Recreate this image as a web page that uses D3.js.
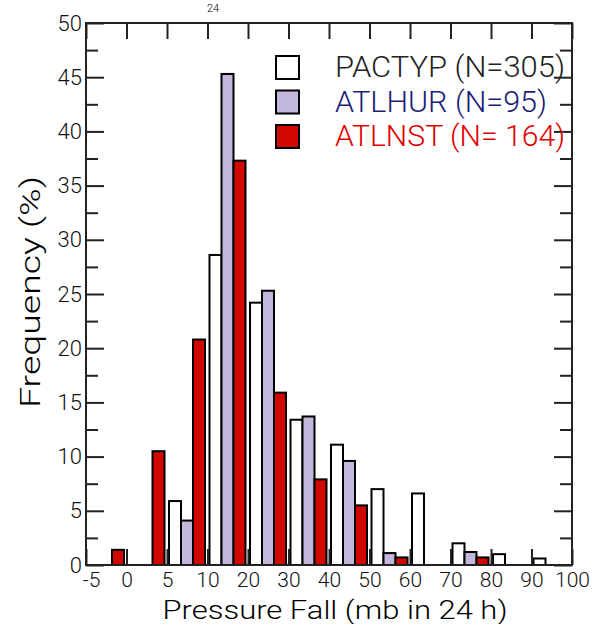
<!DOCTYPE html>
<html>
<head>
<meta charset="utf-8">
<script src="https://cdn.jsdelivr.net/npm/d3@7"></script>
<style>
  body { margin: 0; background: #fff; }
  svg { display: block; }
  text { font-family: Roboto, "Liberation Sans", "DejaVu Sans", sans-serif; font-weight: 300; }
</style>
</head>
<body>
<div id="chart-area"></div>
<script>

// bins of 24 h pressure fall (mb) and bin edge labels
let bins = ['-5-0', '0-5', '5-10', '10-20', '20-30', '30-40', '40-50', '50-60', '60-70', '70-80', '80-90', '90-100'];
let edges = ['-5', '0', '5', '10', '20', '30', '40', '50', '60', '70', '80', '90', '100'];

// frequency (%) per bin
let pactyp = [0, 0, 5.9, 28.6, 24.2, 13.4, 11.1, 7.0, 6.6, 2.0, 1.0, 0.6];
let atlhur = [0, 0, 4.1, 45.3, 25.3, 13.7, 9.6, 1.1, 0, 1.2, 0, 0];
let atlnst = [1.4, 10.5, 20.8, 37.3, 15.9, 7.9, 5.5, 0.7, 0, 0.7, 0, 0];

let seriesNames = ['PACTYP (N=305)', 'ATLHUR (N=95)', 'ATLNST (N= 164)'];
let yTicks = [0, 5, 10, 15, 20, 25, 30, 35, 40, 45, 50];
let yMinor = [2.5, 7.5, 12.5, 17.5, 22.5, 27.5, 32.5, 37.5, 42.5, 47.5];

let fills = ['#ffffff', '#c2b7da', '#d00800'];
let textColors = ['#222222', '#1c1c78', '#e00000'];


//**************** Canvas *****************//

let svg = d3.select('#chart-area').append('svg')
	.attr('width', 605)
	.attr('height', 624);

let plotLeft = 86, plotRight = 572, plotTop = 23, plotBottom = 565;


//**************** Scales & Axes *****************//

let x0 = d3.scaleBand()
	.domain(bins)
	.range([plotLeft, plotRight]);

let x1 = d3.scaleBand()
	.domain([0, 1, 2])
	.range([2, 38]);

let xEdge = d3.scalePoint()
	.domain(edges)
	.range([plotLeft, plotRight]);

let y = d3.scaleLinear()
	.domain([0, 50])
	.range([plotBottom, plotTop]);

// bars
let series = [pactyp, atlhur, atlnst];
series.forEach((vals, s) => {
	svg.append('g').selectAll('rect')
		.data(vals)
		.enter().append('rect')
			.attr('x', (d, i) => x0(bins[i]) + x1(s))
			.attr('y', d => y(d))
			.attr('width', x1.bandwidth())
			.attr('height', d => plotBottom - y(d))
			.attr('fill', fills[s])
			.attr('stroke', d => d > 0 ? '#000' : 'none')
			.attr('stroke-width', 2);
});

// axes with inward ticks
let axisStyle = g => {
	g.select('.domain').remove();
	g.selectAll('line').attr('stroke', '#222').attr('stroke-width', 2);
	g.selectAll('text').attr('fill', '#111').attr('font-size', '22px');
};

let xAxisGroup = svg.append('g')
	.attr('transform', 'translate(0,' + plotBottom + ')')
	.call(d3.axisBottom(xEdge).tickSize(-16).tickPadding(7))
	.call(axisStyle);

xAxisGroup.selectAll('text').attr('font-size', '21px');

// first edge label sits just inside the frame
xAxisGroup.selectAll('text').filter(d => d == '-5').attr('dx', 5);

svg.append('g')
	.attr('transform', 'translate(0,' + plotTop + ')')
	.call(d3.axisTop(xEdge).tickSize(-16).tickFormat(''))
	.call(axisStyle);

svg.append('g')
	.attr('transform', 'translate(' + plotLeft + ',0)')
	.call(d3.axisLeft(y).tickValues(yTicks).tickSize(-18).tickPadding(4))
	.call(axisStyle);

svg.append('g')
	.attr('transform', 'translate(' + plotLeft + ',0)')
	.call(d3.axisLeft(y).tickValues(yMinor).tickSize(-12).tickFormat(''))
	.call(axisStyle);

svg.append('g')
	.attr('transform', 'translate(' + plotRight + ',0)')
	.call(d3.axisRight(y).tickValues(yTicks).tickSize(-18).tickFormat(''))
	.call(axisStyle);

svg.append('g')
	.attr('transform', 'translate(' + plotRight + ',0)')
	.call(d3.axisRight(y).tickValues(yMinor).tickSize(-12).tickFormat(''))
	.call(axisStyle);

// frame
svg.append('rect')
	.attr('x', plotLeft)
	.attr('y', plotTop)
	.attr('width', plotRight - plotLeft)
	.attr('height', plotBottom - plotTop)
	.attr('fill', 'none')
	.attr('stroke', '#222')
	.attr('stroke-width', 2);


//**************** Labels *****************//

svg.append('text')
	.attr('x', 335)
	.attr('y', 619)
	.attr('font-size', '25px')
	.attr('text-anchor', 'middle')
	.attr('textLength', 345)
	.attr('lengthAdjust', 'spacingAndGlyphs')
	.text('Pressure Fall (mb in 24 h)');

svg.append('text')
	.attr('transform', 'translate(40,292) rotate(-90)')
	.attr('font-size', '27px')
	.attr('text-anchor', 'middle')
	.attr('textLength', 232)
	.attr('lengthAdjust', 'spacingAndGlyphs')
	.text('Frequency (%)');

// caption above the chart, mostly cut off in the original
svg.append('text')
	.attr('x', 207)
	.attr('y', 12)
	.attr('font-size', '11px')
	.text('24');


//**************** Legend *****************//

let legend = svg.append('g');
seriesNames.forEach((name, i) => {
	let by = 77 + i * 34.5;
	legend.append('rect')
		.attr('x', 276)
		.attr('y', by - 21)
		.attr('width', 23)
		.attr('height', 23)
		.attr('fill', fills[i])
		.attr('stroke', '#000')
		.attr('stroke-width', 2);
	legend.append('text')
		.attr('x', 335)
		.attr('y', by)
		.attr('font-size', '29px')
		.attr('fill', textColors[i])
		.attr('textLength', i == 1 ? 212 : 230)
		.attr('lengthAdjust', 'spacingAndGlyphs')
		.text(name);
});

</script>
</body>
</html>
